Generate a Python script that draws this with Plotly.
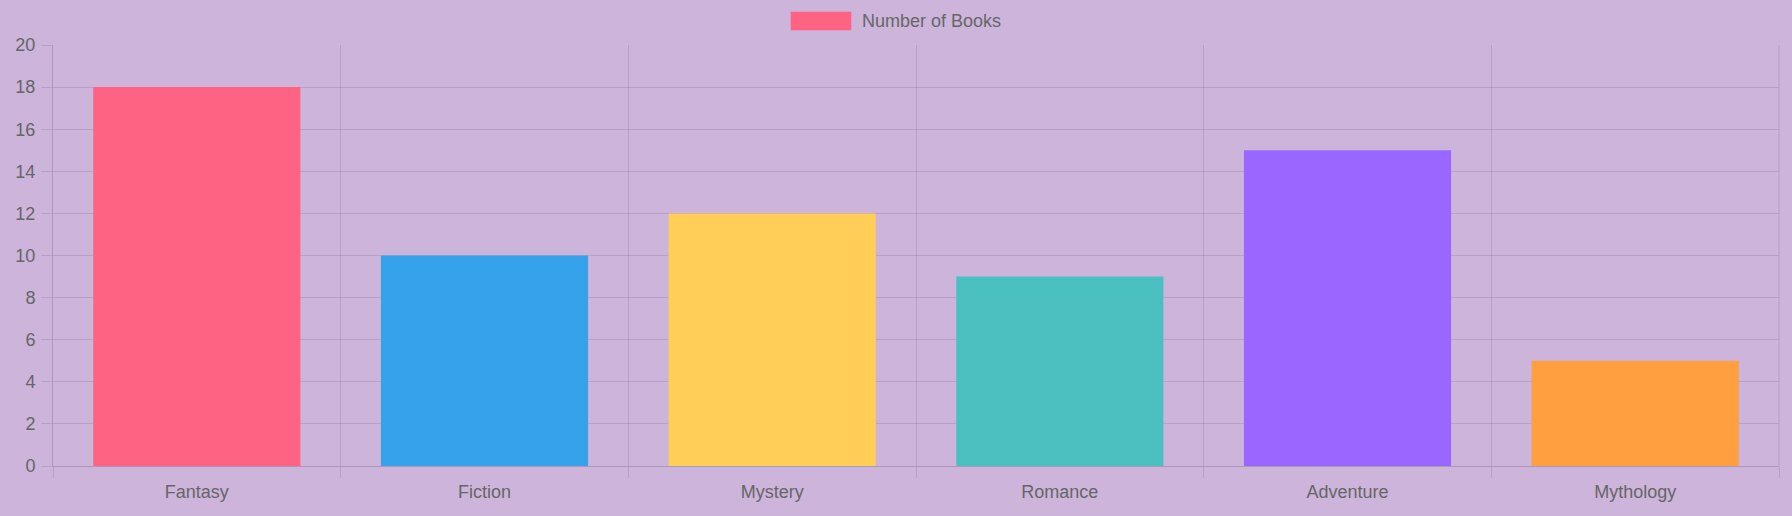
import plotly.graph_objects as go

categories = ["Fantasy", "Fiction", "Mystery", "Romance", "Adventure", "Mythology"]
books = [18, 10, 12, 9, 15, 5]
bar_colors = ["#FF6384", "#36A2EB", "#FFCE56", "#4BC0C0", "#9966FF", "#FF9F40"]
series_name = "Number of Books"
y_ticks = list(range(0, 21, 2))

BG = "#CDB4DB"
GRID = "rgba(0,0,0,0.1)"
AXIS = "rgba(0,0,0,0.16)"
TXT = "#666666"
FONT = "Liberation Sans, Arial, Helvetica, sans-serif"

fig = go.Figure()
fig.add_trace(go.Bar(
    x=categories, y=books, name=series_name,
    marker=dict(color=bar_colors, line=dict(width=0)),
    width=0.72, showlegend=False, hoverinfo="x+y",
))

fig.update_layout(
    width=1792, height=516,
    paper_bgcolor=BG, plot_bgcolor=BG,
    margin=dict(l=53, r=13, t=45, b=50),
    font=dict(family=FONT, size=18, color=TXT),
    xaxis=dict(
        tickson="boundaries", showgrid=True, gridcolor=GRID, gridwidth=1,
        ticks="outside", ticklen=11, tickcolor=GRID,
        showline=True, linecolor=AXIS, linewidth=1, mirror=False,
        tickfont=dict(size=18, color=TXT), ticklabelstandoff=9, fixedrange=True,
    ),
    yaxis=dict(
        range=[0, 20], tickvals=y_ticks, showgrid=True, gridcolor=GRID, gridwidth=1,
        ticks="outside", ticklen=11, tickcolor=GRID,
        showline=True, linecolor=AXIS, linewidth=1,
        zeroline=False, tickfont=dict(size=18, color=TXT), ticklabelstandoff=2,
        fixedrange=True,
    ),
    shapes=[
        dict(type="line", xref="paper", yref="paper", x0=1, x1=1, y0=0, y1=1,
             line=dict(color=GRID, width=1)),
        dict(type="rect", xref="paper", yref="paper",
             x0=(791 - 53) / 1726, x1=(851 - 53) / 1726,
             y0=(466 - 30) / 421, y1=(466 - 12) / 421,
             fillcolor=bar_colors[0], line=dict(color="rgba(255,99,132,0.6)", width=1)),
    ],
    annotations=[
        dict(text=series_name, xref="paper", yref="paper",
             x=(860 - 53) / 1726, y=(466 - 21) / 421,
             xanchor="left", yanchor="middle", showarrow=False,
             font=dict(size=18, color=TXT)),
    ],
)

fig.write_html("out.html", config={"displayModeBar": False})
with open("out.html", encoding="utf-8") as f:
    html = f.read()
html = html.replace("<body>", '<body style="margin:0;padding:0;overflow:hidden">', 1)
with open("out.html", "w", encoding="utf-8") as f:
    f.write(html)
